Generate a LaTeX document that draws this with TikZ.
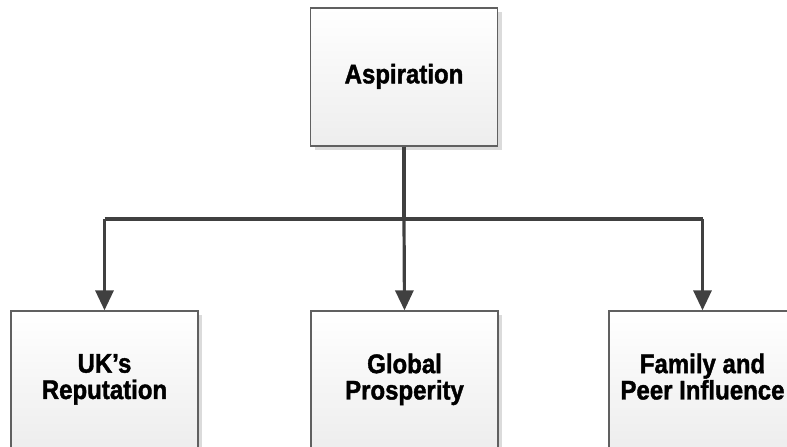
\documentclass[tikz,border=0pt]{standalone}
\usepackage{fontspec}
\setmainfont{Liberation Sans}[BoldFeatures={FakeBold=1.6}]
\usetikzlibrary{arrows.meta,shadows}
\definecolor{edge}{HTML}{606060}
\definecolor{conn}{HTML}{404040}
\newcommand{\boxtxt}[1]{\scalebox{1}[1.12]{\begin{tabular}{@{}c@{}}#1\end{tabular}}}
\begin{document}
\begin{tikzpicture}[x=1pt,y=-1pt,
  boxnode/.style={draw=edge, line width=1.3pt, top color=white, bottom color=black!7,
    minimum width=187pt, minimum height=138pt, inner sep=0pt, align=center,
    font=\fontsize{24}{20.5}\selectfont\bfseries,
    drop shadow={shadow xshift=4pt, shadow yshift=-4pt, fill=black!14, opacity=1}},
  conline/.style={draw=conn, line width=3.2pt},
  arrowline/.style={conline, -{Triangle[width=18pt,length=20pt]}}]
\useasboundingbox (0,0) rectangle (787,447);
\clip (0,0) rectangle (787,447);
\node[boxnode] (asp) at (404,77) {\boxtxt{Aspiration}};
\node[boxnode] (uk) at (104.5,380) {\boxtxt{UK’s\\Reputation}};
\node[boxnode] (glob) at (404.5,380) {\boxtxt{Global\\Prosperity}};
\node[boxnode] (fam) at (702.5,380) {\boxtxt{Family and\\Peer Influence}};
\coordinate (j) at (404,219);
\coordinate (jl) at (104.5,219);
\coordinate (jr) at (702.5,219);
\draw[conline] (asp.south) -- (j);
\draw[conline] (jl) -- (jr);
\draw[arrowline] (jl) -- (uk.north);
\draw[arrowline] (j) -- (glob.north);
\draw[arrowline] (jr) -- (fam.north);
\end{tikzpicture}
\end{document}
